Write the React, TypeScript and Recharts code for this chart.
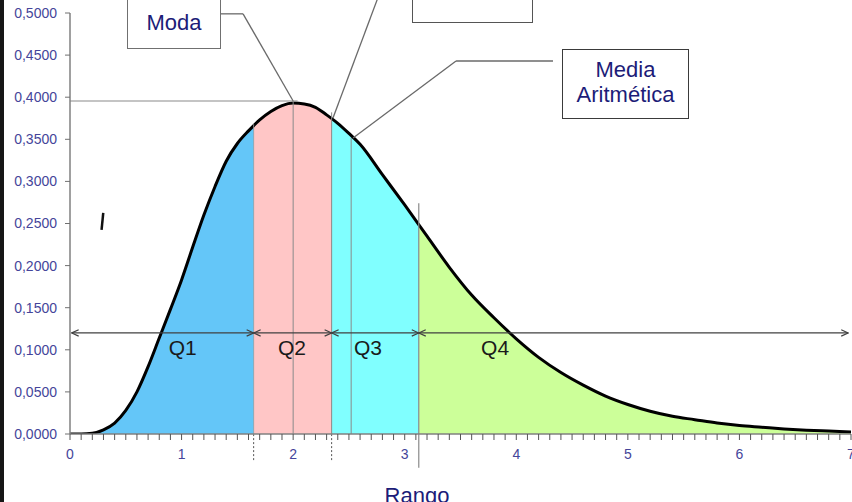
import React from 'react';
import { AreaChart, Area, XAxis, YAxis, ReferenceLine, ReferenceDot } from 'recharts';

// ---- data ----
const rangeValues = [
  0, 0.1, 0.2, 0.3, 0.4, 0.5, 0.6, 0.7, 0.8, 0.9,
  1.0, 1.1, 1.2, 1.3, 1.4, 1.5, 1.6, 1.7, 1.8, 1.9,
  2.0, 2.1, 2.2, 2.3, 2.4, 2.5, 2.6, 2.8, 3.0, 3.2,
  3.4, 3.6, 3.8, 4.0, 4.2, 4.4, 4.6, 4.8, 5.0, 5.2,
  5.4, 5.6, 5.8, 6.0, 6.2, 6.4, 6.6, 6.8, 7.0,
];
const densityValues = [
  0, 0, 0.001, 0.005, 0.013, 0.028, 0.05, 0.08, 0.114, 0.148,
  0.183, 0.222, 0.26, 0.294, 0.324, 0.345, 0.36, 0.373, 0.383, 0.39,
  0.393, 0.392, 0.388, 0.379, 0.369, 0.357, 0.344, 0.308, 0.272, 0.235,
  0.198, 0.165, 0.138, 0.113, 0.091, 0.073, 0.058, 0.045, 0.035, 0.027,
  0.021, 0.017, 0.013, 0.01, 0.008, 0.006, 0.0045, 0.0035, 0.0025,
];
const quartileCuts = [1.646, 2.345, 3.126];
const bandColors = ['#64c6f8', '#ffc6c6', '#80ffff', '#ccff99'];
const quartileNames = ['Q1', 'Q2', 'Q3', 'Q4'];
const quartileNameX = [1.01, 1.99, 2.67, 3.81];
const quartileNameY = 0.103;
const arrowLevel = 0.12;
const arrowSpan = [0.015, 6.975];
const modeX = 2.0;
const modeLevel = 0.3955;
const modeLevelEnd = 2.04;
const meanX = 2.52;
const meanTop = 0.3515;
const medianTop = 0.382;
const q1Top = 0.368;
const q3Top = 0.274;
const belowAxisShort = -0.031;
const belowAxisLong = -0.04;
const calloutModa = [
  { x: 1.353, y: 0.499 },
  { x: 1.551, y: 0.499 },
  { x: 2.0, y: 0.3955 },
];
const calloutMediana = [
  { x: 2.765, y: 0.52 },
  { x: 2.357, y: 0.3753 },
];
const calloutMedia = [
  { x: 4.329, y: 0.443 },
  { x: 3.46, y: 0.443 },
  { x: 2.537, y: 0.3515 },
];
const strayMark = [
  { x: 0.298, y: 0.2625 },
  { x: 0.283, y: 0.2423 },
];
const yTickValues = [0, 0.05, 0.1, 0.15, 0.2, 0.25, 0.3, 0.35, 0.4, 0.45, 0.5];
const xTickLabels = ['0', '1', '2', '3', '4', '5', '6', '7'];
const xMax = 7;
const xMinorTicks = Array.from({ length: 71 }, (_, i) => i / 10);

const chartData = rangeValues.map((x, i) => ({ x, y: densityValues[i] }));

const FONT = 'Arial, "Liberation Sans", sans-serif';
const TICK_COLOR = '#45459a';
const GRAY = '#8a8a8a';

const ArrowLine = (p: any) => (
  <line
    x1={p.x1}
    y1={p.y1}
    x2={p.x2}
    y2={p.y2}
    stroke="#404040"
    strokeWidth={1.2}
    markerStart="url(#arrowHead)"
    markerEnd="url(#arrowHead)"
  />
);

const segmentsOf = (pts: { x: number; y: number }[]) =>
  pts.slice(1).map((p, i) => [pts[i], p]);

function bandStops() {
  const stops: React.ReactElement[] = [];
  const edges = [0, ...quartileCuts.map((c) => c / xMax), 1];
  for (let i = 0; i < bandColors.length; i++) {
    stops.push(<stop key={`a${i}`} offset={edges[i]} stopColor={bandColors[i]} />);
    stops.push(<stop key={`b${i}`} offset={edges[i + 1]} stopColor={bandColors[i]} />);
  }
  return stops;
}

const fmtY = (v: number) => v.toFixed(4).replace('.', ',');
const fmtX = (v: number) => {
  const r = Math.round(v);
  return Math.abs(v - r) < 1e-6 ? xTickLabels[r] : '';
};

export default function App() {
  const arrowBounds = [arrowSpan[0], ...quartileCuts, arrowSpan[1]];
  return (
    <div
      style={{
        position: 'absolute',
        left: 0,
        top: 0,
        width: 852,
        height: 502,
        overflow: 'hidden',
        background: '#ffffff',
        fontFamily: FONT,
      }}
    >
      <div style={{ position: 'absolute', left: 0, top: 0 }}>
        <AreaChart
          width={852}
          height={502}
          data={chartData}
          margin={{ top: 13, right: 1, bottom: 38, left: 0 }}
          style={{ fontFamily: FONT }}
        >
          <defs>
            <linearGradient id="bands" x1="0" y1="0" x2="1" y2="0">
              {bandStops()}
            </linearGradient>
            <marker
              id="arrowHead"
              viewBox="0 0 8 8"
              refX="7.5"
              refY="4"
              markerWidth="8"
              markerHeight="8"
              markerUnits="userSpaceOnUse"
              orient="auto-start-reverse"
            >
              <path d="M0.5,0.8 L7.5,4 L0.5,7.2" fill="none" stroke="#404040" strokeWidth={1.2} />
            </marker>
          </defs>
          <XAxis
            dataKey="x"
            type="number"
            domain={[0, xMax]}
            ticks={xMinorTicks}
            interval={0}
            tickFormatter={fmtX}
            height={30}
            tickSize={6}
            tickMargin={9}
            tick={{ fill: TICK_COLOR, fontSize: 14, fontFamily: FONT }}
            tickLine={{ stroke: '#555555' }}
            axisLine={{ stroke: '#808080', strokeWidth: 1.5 }}
            allowDataOverflow
          />
          <YAxis
            type="number"
            domain={[0, 0.5]}
            ticks={yTickValues}
            interval={0}
            tickFormatter={fmtY}
            width={70}
            tickSize={5}
            tickMargin={8}
            tick={{ fill: TICK_COLOR, fontSize: 14, fontFamily: FONT }}
            tickLine={{ stroke: '#707070' }}
            axisLine={{ stroke: '#808080', strokeWidth: 1.5 }}
            allowDataOverflow
          />
          <Area
            type="monotone"
            dataKey="y"
            stroke="#000000"
            strokeWidth={3}
            fill="url(#bands)"
            fillOpacity={1}
            dot={false}
            activeDot={false}
            isAnimationActive={false}
          />
          {/* vertical markers */}
          <ReferenceLine segment={[{ x: modeX, y: 0 }, { x: modeX, y: modeLevel }]} stroke={GRAY} strokeWidth={1} ifOverflow="visible" />
          <ReferenceLine segment={[{ x: 0, y: modeLevel }, { x: modeLevelEnd, y: modeLevel }]} stroke={GRAY} strokeWidth={1.2} ifOverflow="visible" />
          <ReferenceLine segment={[{ x: meanX, y: 0 }, { x: meanX, y: meanTop }]} stroke={GRAY} strokeWidth={1} ifOverflow="visible" />
          <ReferenceLine segment={[{ x: quartileCuts[0], y: 0 }, { x: quartileCuts[0], y: q1Top }]} stroke="#a0a0a0" strokeWidth={0.8} ifOverflow="visible" />
          <ReferenceLine segment={[{ x: quartileCuts[1], y: 0 }, { x: quartileCuts[1], y: medianTop }]} stroke={GRAY} strokeWidth={1} ifOverflow="visible" />
          <ReferenceLine segment={[{ x: quartileCuts[0], y: belowAxisShort }, { x: quartileCuts[0], y: 0 }]} stroke="#555555" strokeWidth={1} strokeDasharray="2 2" ifOverflow="visible" />
          <ReferenceLine segment={[{ x: quartileCuts[1], y: belowAxisShort }, { x: quartileCuts[1], y: 0 }]} stroke="#555555" strokeWidth={1} strokeDasharray="2 2" ifOverflow="visible" />
          <ReferenceLine segment={[{ x: quartileCuts[2], y: belowAxisLong }, { x: quartileCuts[2], y: q3Top }]} stroke={GRAY} strokeWidth={1.2} ifOverflow="visible" />
          {/* callout connectors */}
          {[...segmentsOf(calloutModa), ...segmentsOf(calloutMediana), ...segmentsOf(calloutMedia)].map((seg, i) => (
            <ReferenceLine key={`c${i}`} segment={seg} stroke="#6a6a6a" strokeWidth={1.3} ifOverflow="visible" />
          ))}
          <ReferenceLine segment={strayMark} stroke="#111111" strokeWidth={2.5} ifOverflow="visible" />
          {/* quartile arrows */}
          {arrowBounds.slice(1).map((b, i) => (
            <ReferenceLine
              key={`a${i}`}
              segment={[{ x: arrowBounds[i], y: arrowLevel }, { x: b, y: arrowLevel }]}
              ifOverflow="visible"
              shape={ArrowLine}
            />
          ))}
          {quartileNames.map((name, i) => (
            <ReferenceDot
              key={name}
              x={quartileNameX[i]}
              y={quartileNameY}
              r={0}
              fill="none"
              stroke="none"
              ifOverflow="visible"
              label={{ value: name, position: 'center', fontSize: 21, fill: '#1a1a1a', fontFamily: FONT }}
            />
          ))}
        </AreaChart>
      </div>
      {/* left black frame */}
      <div style={{ position: 'absolute', left: 0, top: 0, width: 4, height: 502, background: '#161616' }} />
      {/* Moda box */}
      <div style={{ position: 'absolute', left: 127, top: -20, width: 94, height: 69, border: '1.5px solid #707070', boxSizing: 'border-box', background: '#fff' }} />
      <div style={{ position: 'absolute', left: 127, top: 10, width: 94, lineHeight: '26px', fontSize: 22, color: '#1c1c78', textAlign: 'center' }}>Moda</div>
      {/* Mediana box (text above the visible area) */}
      <div style={{ position: 'absolute', left: 412, top: -30, width: 121, height: 53, border: '1.5px solid #555', boxSizing: 'border-box', background: '#fff' }} />
      {/* Media Aritmética box */}
      <div style={{ position: 'absolute', left: 562, top: 49, width: 127, height: 70, border: '1.5px solid #3a3a3a', boxSizing: 'border-box', background: '#fff' }} />
      <div style={{ position: 'absolute', left: 562, top: 56.5, width: 127, lineHeight: '25px', fontSize: 22, color: '#1c1c78', textAlign: 'center' }}>
        Media
        <br />
        Aritmética
      </div>
      {/* x-axis title */}
      <div style={{ position: 'absolute', left: 357, top: 483, width: 120, fontSize: 22, color: '#1c1c78', textAlign: 'center', lineHeight: 'normal' }}>Rango</div>
    </div>
  );
}
